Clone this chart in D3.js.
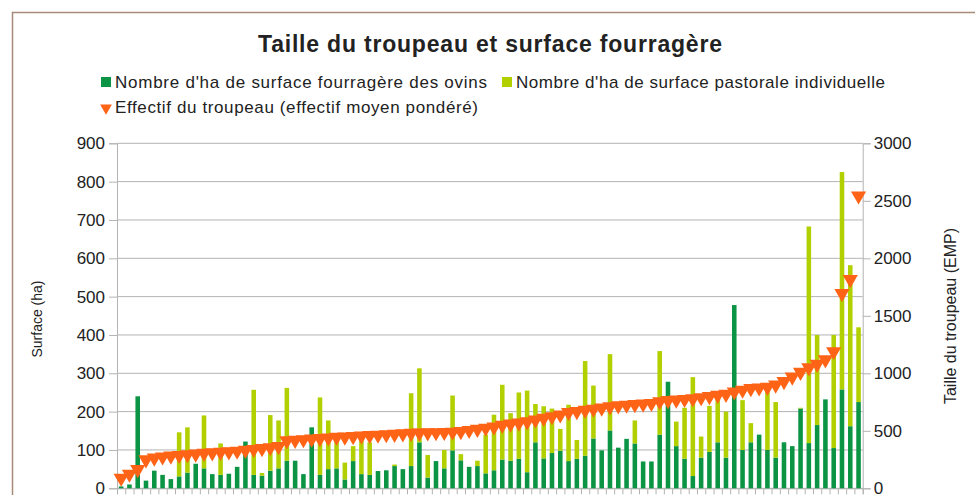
<!DOCTYPE html>
<html>
<head>
<meta charset="utf-8">
<script src="https://cdn.jsdelivr.net/npm/d3@7"></script>
<style>
  body { margin: 0; background: #fff; }
  svg { display: block; }
  text { font-family: "Liberation Sans", Arial, sans-serif; fill: #222; }
</style>
</head>
<body>
<svg id="chart" width="975" height="495"></svg>
<script>
// exploitations, classées par effectif croissant
const categories = d3.range(1, 91).map(String);

// surface fourragère des ovins (ha)
const fourragere = [5, 10, 240, 20, 46, 35, 24, 31, 41, 64,
  52, 37, 35, 38, 56, 122, 35, 33, 46, 52,
  72, 72, 37, 159, 35, 50, 52, 23, 71, 37,
  35, 45, 47, 58, 50, 58, 120, 28, 71, 52,
  99, 73, 56, 58, 39, 47, 75, 72, 77, 42,
  120, 78, 92, 98, 71, 77, 85, 130, 99, 151,
  106, 129, 117, 70, 70, 140, 278, 110, 77, 32,
  80, 95, 120, 80, 478, 100, 120, 140, 100, 80,
  120, 110, 208, 118, 165, 232, 105, 258, 162, 225];

// surface pastorale individuelle (ha), empilée au-dessus
const pastorale = [0, 0, 0, 0, 0, 0, 0, 115, 118, 0,
  138, 0, 82, 0, 0, 0, 222, 7, 145, 125,
  190, 0, 0, 0, 202, 127, 78, 44, 39, 88,
  85, 0, 0, 4, 0, 190, 193, 59, 0, 48,
  143, 16, 0, 14, 101, 145, 195, 124, 173, 213,
  100, 136, 116, 57, 147, 49, 247, 138, 0, 199,
  0, 0, 60, 0, 0, 218, 0, 64, 133, 258,
  55, 120, 120, 120, 0, 130, 50, 0, 155, 145,
  0, 0, 2, 565, 235, 0, 295, 567, 420, 195];

// effectif du troupeau (effectif moyen pondéré)
const effectif = [70, 105, 145, 230, 245, 255, 262, 268, 274, 280,
  286, 290, 295, 300, 305, 312, 320, 328, 335, 345,
  395, 400, 405, 410, 415, 420, 425, 428, 432, 436,
  440, 444, 448, 452, 456, 460, 462, 464, 466, 468,
  470, 475, 485, 495, 505, 515, 530, 540, 550, 560,
  575, 590, 605, 620, 640, 650, 660, 670, 680, 690,
  700, 705, 710, 715, 720, 735, 745, 750, 755, 760,
  770, 780, 790, 800, 820, 835, 850, 855, 860, 880,
  910, 950, 990, 1030, 1060, 1100, 1170, 1675, 1797, 2524];

const surfaceTicks = [0, 100, 200, 300, 400, 500, 600, 700, 800, 900];
const effectifTicks = [0, 500, 1000, 1500, 2000, 2500, 3000];

const seriesNames = ["Nombre d'ha de surface fourragère des ovins",
  "Nombre d'ha de surface pastorale individuelle",
  "Effectif du troupeau (effectif moyen pondéré)"];
const colors = ["#0a9443", "#b2d000", "#ff6316"];

const svg = d3.select("#chart");
const plotLeft = 117, plotRight = 862.7, plotTop = 143.3, plotBottom = 488.3;

// frame of the chart area
svg.append("rect")
  .attr("x", 12.5).attr("y", 12.5)
  .attr("width", 1000).attr("height", 1000)
  .attr("fill", "none").attr("stroke", "#a88a78").attr("stroke-width", 1.5);

const x = d3.scaleBand().domain(categories).range([plotLeft, plotRight])
  .paddingInner(0.45).paddingOuter(0.225);
const xIdx = d3.scaleLinear().domain([0, categories.length]).range([plotLeft, plotRight]);
const y = d3.scaleLinear().domain([0, 900]).range([plotBottom, plotTop]);
const y2 = d3.scaleLinear().domain([0, 3000]).range([plotBottom, plotTop]);

// grid
svg.append("g")
  .selectAll("line").data(surfaceTicks).join("line")
  .attr("x1", plotLeft).attr("x2", plotRight)
  .attr("y1", d => y(d)).attr("y2", d => y(d))
  .attr("stroke", "#b3b3b3").attr("stroke-width", 1);

// left axis
const gl = svg.append("g").attr("transform", "translate(" + plotLeft + ",0)")
  .call(d3.axisLeft(y).tickValues(surfaceTicks).tickSize(8).tickPadding(4));
gl.select(".domain").attr("stroke", "#b3b3b3");
gl.selectAll(".tick line").attr("stroke", "#b3b3b3");
gl.selectAll(".tick text").style("font-size", "17px").attr("fill", "#222")
  .style("font-family", "'Liberation Sans', Arial, sans-serif");

// right axis
const gr = svg.append("g").attr("transform", "translate(" + plotRight + ",0)")
  .call(d3.axisRight(y2).tickValues(effectifTicks).tickFormat(d3.format("d"))
    .tickSize(8).tickPadding(3));
gr.select(".domain").attr("stroke", "#b3b3b3");
gr.selectAll(".tick line").attr("stroke", "#b3b3b3");
gr.selectAll(".tick text").style("font-size", "17px").attr("fill", "#222")
  .style("font-family", "'Liberation Sans', Arial, sans-serif");

// bottom axis, ticks between categories
const gb = svg.append("g").attr("transform", "translate(0," + plotBottom + ")")
  .call(d3.axisBottom(xIdx).tickValues(d3.range(0, categories.length + 1))
    .tickSize(6).tickFormat(""));
gb.select(".domain").attr("stroke", "#b3b3b3");
gb.selectAll(".tick line").attr("stroke", "#b3b3b3");

// stacked bars
const table = categories.map((c, i) => ({cat: c, fourragere: fourragere[i], pastorale: pastorale[i]}));
const stack = d3.stack().keys(["fourragere", "pastorale"])(table);

svg.append("g").selectAll("g").data(stack).join("g")
  .attr("fill", (d, i) => colors[i])
  .selectAll("rect").data(d => d).join("rect")
  .attr("x", d => x(d.data.cat))
  .attr("width", x.bandwidth())
  .attr("y", d => y(d[1]))
  .attr("height", d => y(d[0]) - y(d[1]));

// triangles (pointing down, box centred on the value)
const triSize = 100;
const triH = Math.sqrt(triSize * Math.sqrt(3));
const tri = d3.symbol().type(d3.symbolTriangle).size(triSize);
svg.append("g").selectAll("path").data(effectif).join("path")
  .attr("d", tri)
  .attr("transform", (d, i) => "translate(" + (x(categories[i]) + x.bandwidth() / 2) + "," +
    (y2(d) - triH / 6) + ") rotate(180)")
  .attr("fill", colors[2]);

// title
svg.append("text")
  .attr("x", 490).attr("y", 52)
  .attr("text-anchor", "middle")
  .attr("textLength", 464)
  .style("font-size", "23px").style("font-weight", "bold")
  .text("Taille du troupeau et surface fourragère");

// axis titles
svg.append("text")
  .attr("transform", "translate(42,319) rotate(-90)")
  .attr("text-anchor", "middle")
  .style("font-size", "14px")
  .text("Surface (ha)");
svg.append("text")
  .attr("transform", "translate(956,316) rotate(-90)")
  .attr("text-anchor", "middle")
  .style("font-size", "16px")
  .text("Taille du troupeau (EMP)");

// legend
const legend = [
  {name: seriesNames[0], color: colors[0], x: 101, y: 82, w: 372, shape: "rect"},
  {name: seriesNames[1], color: colors[1], x: 502, y: 82, w: 369, shape: "rect"},
  {name: seriesNames[2], color: colors[2], x: 101, y: 107, w: 363, shape: "tri"}
];
const lg = svg.append("g").selectAll("g").data(legend).join("g")
  .attr("transform", d => "translate(" + d.x + "," + d.y + ")");
lg.filter(d => d.shape === "rect").append("rect")
  .attr("x", 0).attr("y", -5).attr("width", 10).attr("height", 10)
  .attr("fill", d => d.color);
lg.filter(d => d.shape === "tri").append("path")
  .attr("d", d3.symbol().type(d3.symbolTriangle).size(60))
  .attr("transform", "translate(5,1) rotate(180)")
  .attr("fill", d => d.color);
lg.append("text")
  .attr("x", 14).attr("y", 6)
  .attr("textLength", d => d.w)
  .style("font-size", "17px")
  .text(d => d.name);
</script>
</body>
</html>
